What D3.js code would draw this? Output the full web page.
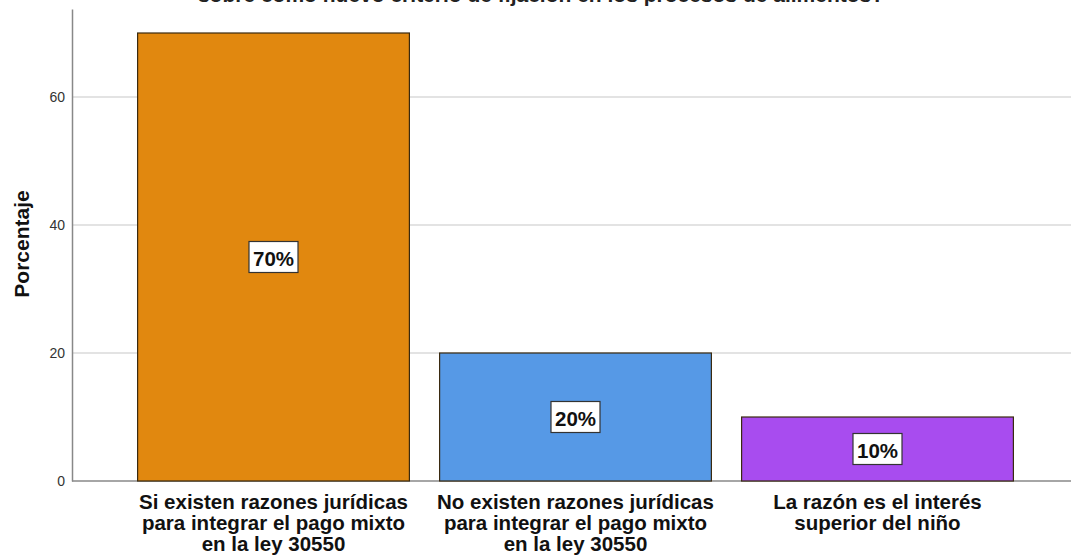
<!DOCTYPE html>
<html><head><meta charset="utf-8">
<script src="https://cdn.jsdelivr.net/npm/d3@7"></script>
<style>body{margin:0;background:#fff;}svg{display:block;font-family:Arial,"Liberation Sans",sans-serif;}</style>
</head><body>
<svg id="c" width="1071" height="555"></svg>
<script>
const categories = [
  ["Si existen razones jurídicas","para integrar el pago mixto","en la ley 30550"],
  ["No existen razones jurídicas","para integrar el pago mixto","en la ley 30550"],
  ["La razón es el interés","superior del niño"]
];
const values = [70, 20, 10];
const valueLabels = ["70%", "20%", "10%"];
const colors = ["#E1880F", "#5699E6", "#A84CEF"];
const yTicks = [0, 20, 40, 60];
const titleText = "sobre como nuevo criterio de fijación en los procesos de alimentos?";

const svg = d3.select("#c");
const x0 = 72, yBottom = 481;
const y = d3.scaleLinear().domain([0, 73.75]).range([yBottom, 9]);
const x = d3.scaleBand().domain(d3.range(values.length)).range([122.5, 1028.5]).paddingInner(0.1).paddingOuter(0.05);

// title (cut off at top, as in the reference)
svg.append("text").attr("x", 541).attr("y", 1.5).attr("text-anchor","middle")
  .attr("font-size", 21).attr("font-weight","bold").attr("fill","#222").text(titleText);

// gridlines
svg.append("g").selectAll("line").data(yTicks.filter(d=>d>0)).join("line")
  .attr("x1", x0).attr("x2", 1071).attr("y1", d=>y(d)).attr("y2", d=>y(d))
  .attr("stroke","#c8c8c8").attr("stroke-width",1.2);

// y axis
const yAxis = d3.axisLeft(y).tickValues(yTicks).tickSize(0).tickPadding(7);
const ga = svg.append("g").attr("transform",`translate(${x0},0)`).call(yAxis);
ga.select(".domain").attr("stroke","#888").attr("stroke-width",1.5);
ga.selectAll("text").attr("font-size",14).attr("fill","#333").attr("font-family","Arial, 'Liberation Sans', sans-serif");

// x axis line
svg.append("line").attr("x1", x0).attr("x2", 1071).attr("y1", yBottom).attr("y2", yBottom)
  .attr("stroke","#888").attr("stroke-width",1.5);

// bars
svg.append("g").selectAll("rect").data(values).join("rect")
  .attr("x",(d,i)=>x(i)).attr("width",x.bandwidth())
  .attr("y",d=>y(d)).attr("height",d=>yBottom-y(d))
  .attr("fill",(d,i)=>colors[i]).attr("stroke","#3a2a10").attr("stroke-width",1.2);

// value labels
values.forEach((v,i)=>{
  const cx = x(i)+x.bandwidth()/2, cy = (y(v)+yBottom)/2;
  const g = svg.append("g");
  g.append("rect").attr("x",cx-24.5).attr("y",cy-15.5).attr("width",49).attr("height",31)
    .attr("fill","#fff").attr("stroke","#333").attr("stroke-width",1.2);
  g.append("text").attr("x",cx).attr("y",cy+1).attr("text-anchor","middle")
    .attr("dominant-baseline","central").attr("font-size",20.5).attr("font-weight","bold")
    .attr("fill","#111").text(valueLabels[i]);
});

// x category labels
categories.forEach((lines,i)=>{
  const cx = x(i)+x.bandwidth()/2;
  const t = svg.append("text").attr("text-anchor","middle").attr("font-size",20.5).attr("font-weight","bold").attr("fill","#111");
  lines.forEach((l,j)=>t.append("tspan").attr("x",cx).attr("y",508.5+j*21).text(l));
});

// y title
svg.append("text").attr("transform","translate(29,244) rotate(-90)").attr("text-anchor","middle")
  .attr("font-size",21).attr("font-weight","bold").attr("fill","#111").text("Porcentaje");
</script>
</body></html>
